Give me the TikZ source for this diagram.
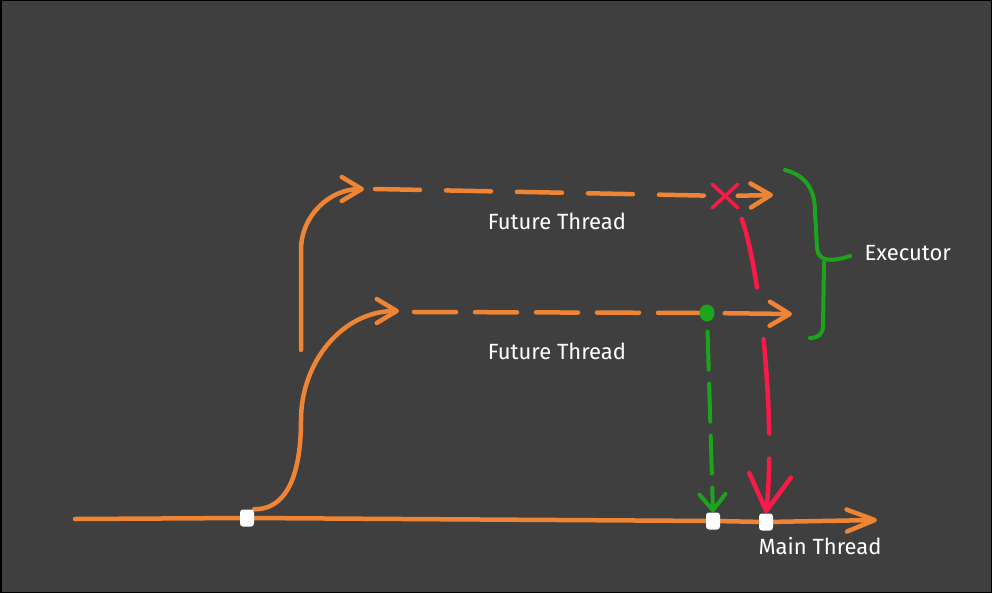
\documentclass[tikz,border=0pt]{standalone}
\usepackage{fontspec}
\setmainfont{Fira Sans}
\usetikzlibrary{arrows.meta,positioning,shapes.misc,shapes.geometric}
\definecolor{board}{HTML}{3F3F3F}
\definecolor{chalkorange}{HTML}{EE8434}
\definecolor{chalkred}{HTML}{FA1A48}
\definecolor{chalkgreen}{HTML}{1DA41D}
\pgfdeclarelayer{board}
\pgfsetlayers{board,main}
\tikzset{
  threadline/.style={chalkorange,line width=4.5pt,line cap=round},
  redline/.style={chalkred,line width=4.5pt,line cap=round},
  greenline/.style={chalkgreen,line width=4pt,line cap=round},
  threadtip/.style={-{Straight Barb[round,length=20pt,width=24pt]}},
  maintip/.style={-{Straight Barb[round,length=28pt,width=22pt]}},
  failtip/.style={-{Straight Barb[round,length=36pt,width=42pt]}},
  donetip/.style={-{Straight Barb[round,length=16pt,width=26pt]}},
  joinmark/.style={fill=white,rounded corners=3pt,minimum width=14pt,minimum height=17pt,inner sep=0pt},
  donedot/.style={ellipse,fill=chalkgreen,minimum width=15pt,minimum height=17pt,inner sep=0pt},
  failcross/.style={cross out,draw=chalkred,line width=3.5pt,line cap=round,minimum width=22pt,minimum height=20pt,inner sep=0pt},
  chalktext/.style={text=white,font=\fontsize{22pt}{26pt}\selectfont}
}

\begin{document}
\begin{tikzpicture}[x=1pt,y=-1pt]
\useasboundingbox (0,0) rectangle (992,593);

\node[joinmark] (fork) at (247,518) {};
\node[joinmark] (okjoin) at (713,521) {};
\node[joinmark] (failjoin) at (766,522) {};
\node[donedot] (done) at (707,313) {};
\node[failcross] (fail) at (725,196) {};

\coordinate (mainstart) at (75,519);
\coordinate (mainend) at (877,520);
\coordinate (lowerbend) at (301,420);
\coordinate (lowertip) at (399,311);
\coordinate (lowerrow) at (414,312);
\coordinate (lowerend) at (792,314);
\coordinate (upperstart) at (301,350);
\coordinate (upperbend) at (301,250);
\coordinate (uppertip) at (364,189);
\coordinate (upperrow) at (375,189);
\coordinate (upperend) at (773,195);
\coordinate (bracetop) at (785,170);
\coordinate (bracetip) at (850,256);
\coordinate (bracebot) at (810,338);

\node[chalktext] (upperlabel) at (557,221) {Future Thread};
\node[chalktext] (lowerlabel) at (557,351) {Future Thread};
\node[chalktext] (mainlabel) at (820,546) {Main Thread};
\node[chalktext,right=11pt of bracetip,yshift=3pt] (executor) {Executor};

\begin{pgfonlayer}{board}
\fill[black] (0,0) rectangle (992,593);
\fill[board] (1.5,1.5) rectangle (990.5,591.5);

\draw[threadline,maintip] (mainstart) -- (fork) -- (okjoin) -- (failjoin) -- (mainend);
\draw[threadline,threadtip] (fork.north east) to[out=0,in=-90] (lowerbend) to[out=90,in=180] (lowertip);
\draw[threadline,threadtip] (upperstart) -- (upperbend) to[out=90,in=180] (uppertip);

\draw[threadline,dash pattern=on 45pt off 26pt] (upperrow) -- (fail);
\draw[threadline,threadtip] (fail) -- (upperend);
\draw[threadline,dash pattern=on 42pt off 19pt] (lowerrow) -- (done);
\draw[threadline,threadtip,shorten <=10pt] (done) -- (lowerend);

\draw[redline,failtip,dash pattern=on 70pt off 52pt on 95pt off 25pt on 200pt,shorten <=12pt] (fail.south east) .. controls (760,270) and (776,420) .. (failjoin.north);
\draw[greenline,donetip,dash pattern=on 38pt off 14pt,shorten <=10pt] (done) -- (okjoin.north);

\draw[greenline] (bracetop) .. controls (808,176) and (815,192) .. (815,212) -- (817,248) .. controls (818,262) and (832,262) .. (bracetip);
\draw[greenline] (824,262) -- (823,326) .. controls (823,334) and (818,338) .. (bracebot);
\end{pgfonlayer}
\end{tikzpicture}
\end{document}
